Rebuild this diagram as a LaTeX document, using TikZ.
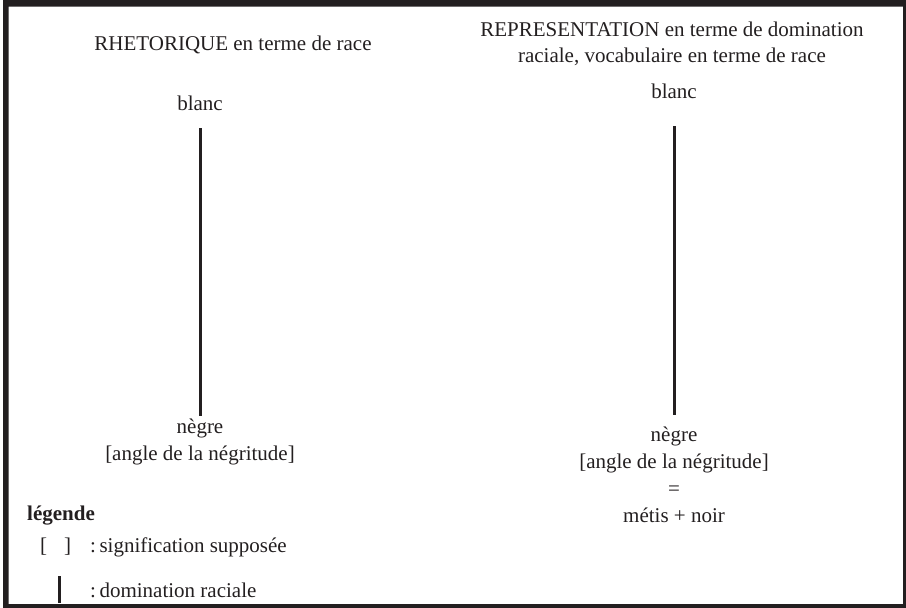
\documentclass[tikz,border=0pt]{standalone}
\usepackage{fontspec}
\setmainfont{Liberation Serif}
\definecolor{ink}{HTML}{231F20}

\begin{document}
\begin{tikzpicture}[x=1pt,y=-1pt]
\def\fs{\fontsize{21}{27}\selectfont}
\def\lw{3pt}
\tikzset{txt/.style={inner sep=0pt, anchor=base, text=ink, font=\fs, align=center},
         dom/.style={draw=ink, line width=\lw}}

\useasboundingbox (0,0) rectangle (906,608);
\fill [ink, even odd rule] (3,0) rectangle (906,608) (8.5,6.5) rectangle (903,604);

% titles
\node [txt, name=tL] at (233,50) {RHETORIQUE en terme de race};
\node [txt, name=tR] at (672,62) {REPRESENTATION en terme de domination\\[-1pt]raciale, vocabulaire en terme de race};

% left column
\node [txt, name=bL] at (200,110) {blanc};
\node [txt, name=nL] at (200,460) {nègre\\{}[angle de la négritude]};
% right column
\node [txt, name=bR] at (674,98) {blanc};
\node [txt, name=nR] at (674,522) {nègre\\{}[angle de la négritude]\\=\\métis + noir};

\draw [dom, shorten <=18pt, shorten >=2pt] (bL.south) to (nL.north);
\draw [dom, shorten <=28pt, shorten >=11pt] (bR.south) to (nR.north);

% legend
\node [txt, anchor=base west, font=\fs\bfseries, name=leg] at (27,520) {légende};
\node [txt, anchor=base west, name=k1] at (40,552) {[\hspace{17pt}]};
\node [txt, anchor=base west, name=k1t] at (90,552) {:\,signification supposée};
\coordinate (k2a) at (59.5,576);
\coordinate (k2b) at (59.5,603);
\draw [dom, line width=2.5pt] (k2a) to (k2b);
\node [txt, anchor=base west, name=k2t] at (90,597) {:\,domination raciale};
\end{tikzpicture}
\end{document}
